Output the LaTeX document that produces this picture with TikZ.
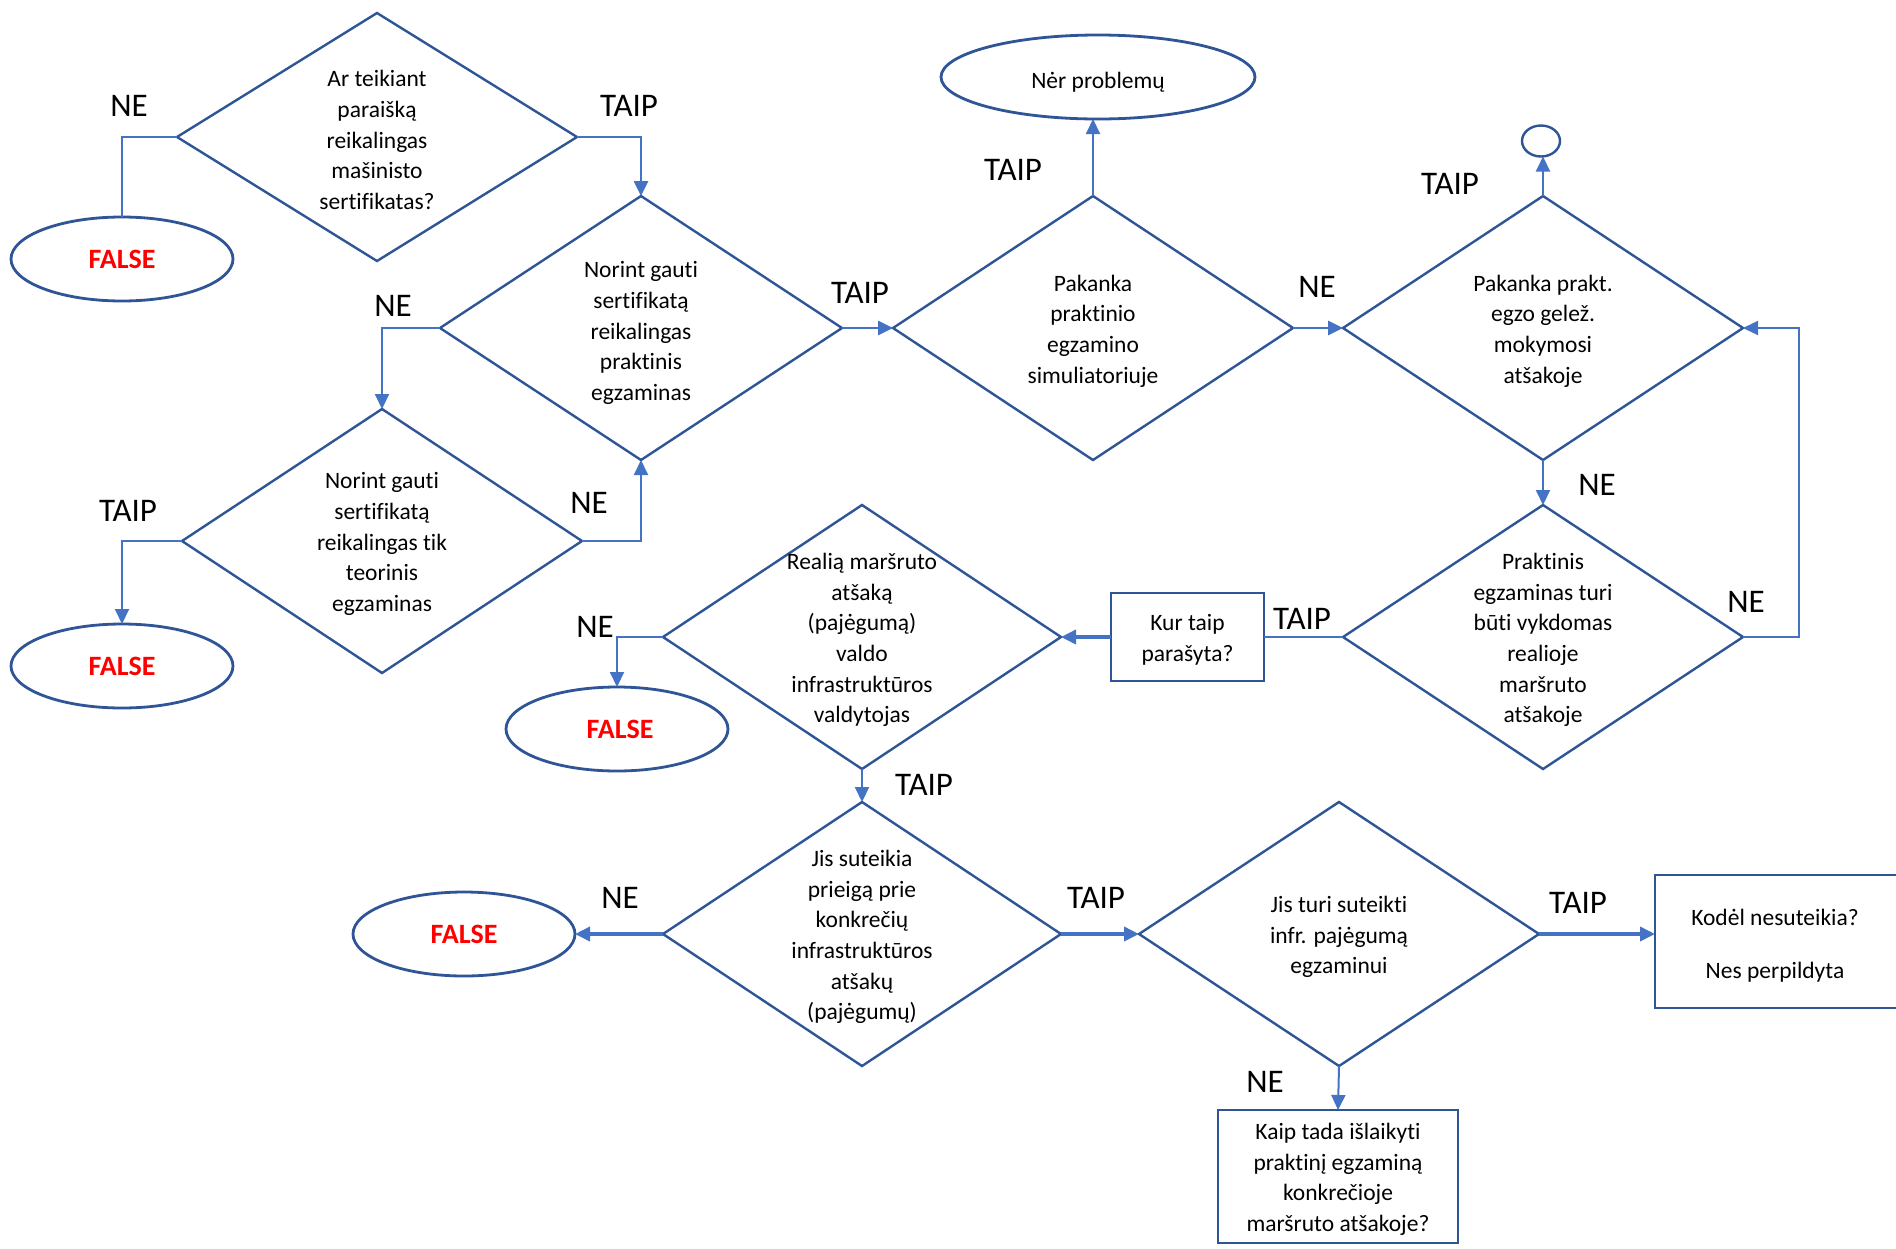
\documentclass[tikz,border=0pt]{standalone}
\usepackage{fontspec}
\setmainfont{Carlito}[Ligatures=NoCommon]
\usetikzlibrary{shapes.geometric,arrows.meta}
\definecolor{dkblue}{HTML}{2F5597}
\definecolor{lnblue}{HTML}{4472C4}
\definecolor{fred}{HTML}{FF0000}
\begin{document}
\begin{tikzpicture}[x=1pt,y=-1pt,
  dia/.style={diamond, draw=dkblue, line width=2.4pt, minimum width=400pt, minimum height=264pt, inner sep=0pt, outer sep=0pt},
  txt/.style={align=center, font=\fontsize{23.5}{30.6}\selectfont, inner sep=0pt, yshift=-3pt},
  oval/.style={ellipse, draw=dkblue, line width=2.8pt, inner sep=0pt, outer sep=0pt},
  boxn/.style={rectangle, draw=dkblue, line width=2.8pt, inner sep=0pt, outer sep=0pt},
  ftxt/.style={font=\fontsize{28}{32}\bfseries\selectfont, text=fred},
  lbl/.style={font=\fontsize{33}{36}\selectfont, inner sep=0pt},
  conn/.style={draw=lnblue, line width=2pt, -{Triangle[length=15pt,width=14pt]}},
  connm/.style={conn, line width=2.6pt},
  connt/.style={conn, line width=3.6pt},
  plain/.style={draw=lnblue, line width=1.6pt}
]
\useasboundingbox (0,0) rectangle (1896,1248);
\fill[white] (0,0) rectangle (1896,1248);

% diamonds
\node[dia, minimum height=248pt] (d1) at (377,137) {};
\node[txt] (d1t) at (d1) {Ar teikiant\\paraišką\\reikalingas\\mašinisto\\sertifikatas?};
\node[dia, minimum width=402pt] (d2) at (641,328) {};
\node[txt, yshift=-2pt] (d2t) at (d2) {Norint gauti\\sertifikatą\\reikalingas\\praktinis\\egzaminas};
\node[dia] (d3) at (382,541) {};
\node[txt] (d3t) at (d3) {Norint gauti\\sertifikatą\\reikalingas tik\\teorinis\\egzaminas};
\node[dia] (d4) at (1093,328) {};
\node[txt] (d4t) at (d4) {Pakanka\\praktinio\\egzamino\\simuliatoriuje};
\node[dia] (d5) at (1543,328) {};
\node[txt] (d5t) at (d5) {Pakanka prakt.\\egzo gelež.\\mokymosi\\atšakoje};
\node[dia] (d6) at (1543,637) {};
\node[txt] (d6t) at (d6) {Praktinis\\egzaminas turi\\būti vykdomas\\realioje\\maršruto\\atšakoje};
\node[dia, minimum width=398pt] (d7) at (862,637) {};
\node[txt] (d7t) at (d7) {Realią maršruto\\atšaką\\(pajėgumą)\\valdo\\infrastruktūros\\valdytojas};
\node[dia, minimum width=398pt] (d8) at (862,934) {};
\node[txt] (d8t) at (d8) {Jis suteikia\\prieigą prie\\konkrečių\\infrastruktūros\\atšakų\\(pajėgumų)};
\node[dia] (d9) at (1339,934) {};
\node[txt] (d9t) at (d9) {Jis turi suteikti\\infr. pajėgumą\\egzaminui};

% terminals
\node[oval, minimum width=222pt, minimum height=84pt] (f1) at (122,259) {};
\node[ftxt] (f1t) at (f1) {FALSE};
\node[oval, minimum width=222pt, minimum height=84pt] (f2) at (122,666) {};
\node[ftxt] (f2t) at (f2) {FALSE};
\node[oval, minimum width=222pt, minimum height=84pt] (f3) at (617,729) {};
\node[ftxt] (f3t) at ([xshift=3pt]f3.center) {FALSE};
\node[oval, minimum width=222pt, minimum height=84pt] (f4) at (464,934) {};
\node[ftxt] (f4t) at (f4) {FALSE};
\node[oval, minimum width=314pt, minimum height=84pt] (np) at (1098,77) {};
\node[txt, yshift=-2pt] (npt) at (np) {Nėr problemų};
\node[oval, line width=2.4pt, minimum width=38pt, minimum height=31pt] (circ) at (1541,141) {};

% boxes
\node[boxn, minimum width=153pt, minimum height=88pt] (kur) at (1187.5,637) {};
\node[txt] (kurt) at (kur) {Kur taip\\parašyta?};
\node[boxn, minimum width=260pt, minimum height=133pt] (kod) at (1785,941.5) {};
\node[txt] (kodt) at (1775,943) {Kodėl nesuteikia?\\[22pt]Nes perpildyta};
\node[boxn, minimum width=240pt, minimum height=133pt] (kaip) at (1338,1176.5) {};
\node[txt] (kaipt) at (kaip) {Kaip tada išlaikyti\\praktinį egzaminą\\konkrečioje\\maršruto atšakoje?};

% connectors
\draw[plain] (d1.west) -| (f1.north);
\draw[connm] (d1.east) -| (d2.north);
\draw[conn] (d2.west) -| (d3.north);
\draw[conn] (d3.west) -| (f2.north);
\draw[conn] (d3.east) -| (d2.south);
\draw[connm] (d2.east) -- (d4.west);
\draw[conn] (d4.north) -- (d4.north |- np.south);
\draw[connm] (d4.east) -- (d5.west);
\draw[conn] (d5.north) -- (d5.north |- circ.south);
\draw[conn] (d5.south) -- (d6.north);
\draw[conn] (d6.east) -- ++(56,0) |- (d5.east);
\draw[plain] (d6.west) -- (kur.east);
\draw[connt] (kur.west) -- (d7.east);
\draw[conn] (d7.west) -| (f3.north);
\draw[conn] (d7.south) -- (d8.north);
\draw[connt] (d8.west) -- (f4.east);
\draw[connt] (d8.east) -- (d9.west);
\draw[connt] (d9.east) -- (d9.east -| kod.west);
\draw[conn] (d9.south) -- (kaip.north);

% labels
\node[lbl] (l1) at (129,106) {NE};
\node[lbl] (l2) at (629,106) {TAIP};
\node[lbl] (l3) at (393,306) {NE};
\node[lbl] (l4) at (128,511) {TAIP};
\node[lbl] (l5) at (589,503) {NE};
\node[lbl] (l6) at (860,293) {TAIP};
\node[lbl] (l7) at (1013,170) {TAIP};
\node[lbl] (l8) at (1317,287) {NE};
\node[lbl] (l9) at (1450,184) {TAIP};
\node[lbl] (l10) at (1597,485) {NE};
\node[lbl] (l11) at (1746,602) {NE};
\node[lbl] (l12) at (1302,619) {TAIP};
\node[lbl] (l13) at (595,627) {NE};
\node[lbl] (l14) at (924,785) {TAIP};
\node[lbl] (l15) at (620,898) {NE};
\node[lbl] (l16) at (1096,898) {TAIP};
\node[lbl] (l17) at (1578,903) {TAIP};
\node[lbl] (l18) at (1265,1082) {NE};
\end{tikzpicture}
\end{document}
